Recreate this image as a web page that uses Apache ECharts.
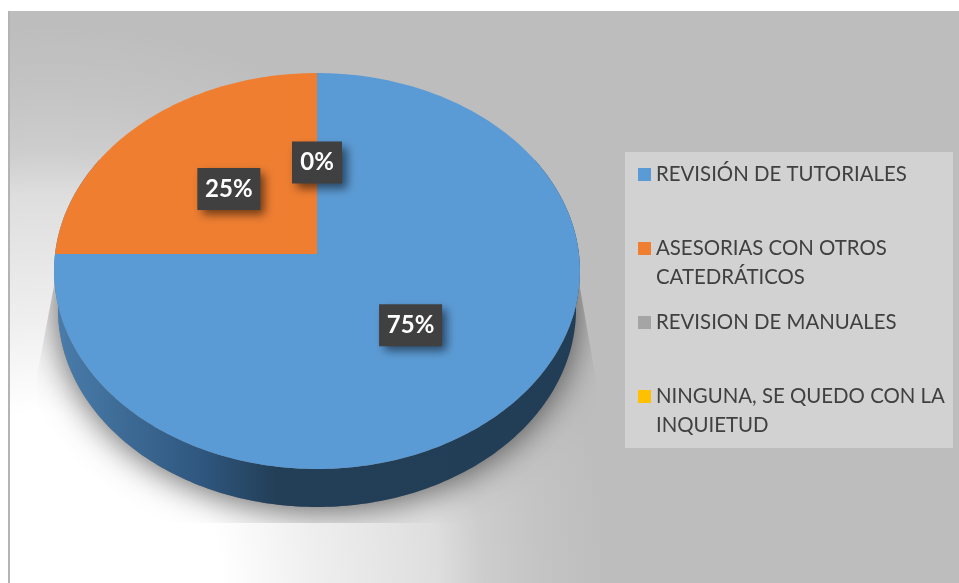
<!DOCTYPE html>
<html>
<head>
<meta charset="utf-8">
<style>
  html, body { margin: 0; padding: 0; background: #fff; }
  #chart { width: 959px; height: 583px; }
</style>
</head>
<body>
<div id="chart"></div>
<script src="https://cdn.jsdelivr.net/npm/echarts@6/dist/echarts.min.js"></script>
<script>
const categories = ['REVISIÓN DE TUTORIALES', 'ASESORIAS CON OTROS CATEDRÁTICOS', 'REVISION DE MANUALES', 'NINGUNA, SE QUEDO CON LA INQUIETUD']
// blank lines keep the swatch on the first line of text and the rows evenly spaced
const legendLines = [' \nREVISIÓN DE TUTORIALES\n ', ' \nASESORIAS CON OTROS\nCATEDRÁTICOS', ' \nREVISION DE MANUALES\n ', ' \nNINGUNA, SE QUEDO CON LA\nINQUIETUD']
const values = [75, 25, 0, 0]
const colors = ['#5b9bd5', '#ef7e31', '#a5a5a5', '#ffc000']

const total = values.reduce((a, b) => a + b, 0)
const FONT = 'Lato, "Open Sans", sans-serif'

// the pie is tilted, so a point on the circle goes through a perspective map
const apexX = 317
const apexY = 254
const rimX = 262
const persp = -0.0859
const perspA = 174.7
const depth = 38

const project = (u, v, dy = 0, scale = 1) => {
  const w = persp * v + 1
  return [apexX + rimX * scale * u / w, (perspA * v + apexY) / w + dy]
}
// angle in degrees, clockwise from twelve o'clock
const onCircle = (deg, r, dy, scale) => {
  const a = deg * Math.PI / 180
  return project(r * Math.sin(a), -r * Math.cos(a), dy, scale)
}
const arc = (from, to, dy, scale) => {
  const pts = []
  for (let d = from; d <= to; d += 1) {
    pts.push(onCircle(d, 1, dy, scale))
  }
  return pts
}

const startDeg = (i) => values.slice(0, i).reduce((a, b) => a + b, 0) / total * 360

const renderSlice = (i) => () => {
  const a0 = startDeg(i)
  const a1 = a0 + values[i] / total * 360
  const children = []
  if (values[i] > 0) {
    children.push({
      type: 'polygon',
      shape: { points: [[apexX, apexY]].concat(arc(a0, a1, 0, 1)) },
      style: { fill: colors[i] }
    })
  }
  // two empty slices share one spot, only one label is seen there
  const sameAsPrev = i > 0 && values[i] === 0 && values[i - 1] === 0
  if (!sameAsPrev) {
    const label = values[i] + '%'
    const w = 13 * label.length + 24
    const pos = onCircle((a0 + a1) / 2, 0.49, 0, 1)
    children.push({
      type: 'rect',
      z2: 100,
      shape: { x: pos[0] - w / 2, y: pos[1] - 20, width: w, height: 42 },
      style: {
        fill: '#404040',
        shadowColor: 'rgba(0,0,0,0.55)',
        shadowBlur: 9,
        shadowOffsetX: 5,
        shadowOffsetY: 5
      }
    })
    children.push({
      type: 'text',
      z2: 101,
      style: {
        x: pos[0],
        y: pos[1] + 1,
        text: label,
        align: 'center',
        verticalAlign: 'middle',
        fill: '#fff',
        font: 'bold 24px ' + FONT
      }
    })
  }
  return { type: 'group', children }
}

const renderBase = () => {
  const top = arc(60, 300, 0, 1)
  const bottom = arc(60, 300, depth, 0.985).reverse()
  const outline = arc(0, 360, depth, 0.985)
  return {
    type: 'group',
    children: [
      {
        type: 'polygon',
        shape: { points: outline },
        clipPath: {
          type: 'polygon',
          shape: { points: [[58, 265], [37, 375], [37, 523], [596, 523], [596, 380], [576, 265]] }
        },
        style: {
          fill: '#777',
          shadowColor: 'rgba(0,0,0,0.6)',
          shadowBlur: 34,
          shadowOffsetY: 3
        }
      },
      {
        type: 'polygon',
        shape: { points: top.concat(bottom) },
        style: {
          fill: new echarts.graphic.LinearGradient(54, 0, 579, 0, [
            { offset: 0, color: '#4a7dab' },
            { offset: 0.28, color: '#2f577f' },
            { offset: 0.42, color: '#233f58' },
            { offset: 1, color: '#223e56' }
          ], true)
        }
      }
    ]
  }
}

const chart = echarts.init(document.getElementById('chart'), null, { renderer: 'canvas' })

chart.setOption({
  animation: false,
  graphic: [
    {
      type: 'rect',
      z: 0,
      shape: { x: 8, y: 11, width: 951, height: 572 },
      style: {
        fill: new echarts.graphic.RadialGradient(50, 583, 570, [
          { offset: 0, color: '#ffffff' },
          { offset: 0.3, color: '#ffffff' },
          { offset: 0.46, color: '#efefef' },
          { offset: 0.68, color: '#dedede' },
          { offset: 0.76, color: '#cdcdcd' },
          { offset: 0.86, color: '#c4c4c4' },
          { offset: 0.98, color: '#bdbdbd' },
          { offset: 1, color: '#bdbdbd' }
        ], true)
      }
    },
    {
      type: 'rect',
      z: 0,
      shape: { x: 8, y: 11, width: 2, height: 572 },
      style: { fill: '#b4b4b4' }
    },
    {
      type: 'rect',
      z: 0,
      shape: { x: 625, y: 152, width: 328, height: 296 },
      style: { fill: '#d2d2d2' }
    }
  ],
  legend: {
    data: categories,
    orient: 'vertical',
    left: 638,
    top: 131,
    padding: 0,
    itemWidth: 13,
    itemHeight: 13,
    itemGap: -13,
    icon: 'rect',
    formatter: (name) => legendLines[categories.indexOf(name)],
    textStyle: {
      color: '#404040',
      fontFamily: FONT,
      fontSize: 20.4,
      lineHeight: 29
    }
  },
  series: [
    {
      type: 'custom',
      name: 'base',
      coordinateSystem: 'none',
      silent: true,
      z: 1,
      data: [0],
      renderItem: renderBase
    }
  ].concat(categories.map((name, i) => ({
    type: 'custom',
    name,
    coordinateSystem: 'none',
    silent: true,
    z: 2,
    itemStyle: { color: colors[i] },
    data: [values[i]],
    renderItem: renderSlice(i)
  })))
})
</script>
</body>
</html>
